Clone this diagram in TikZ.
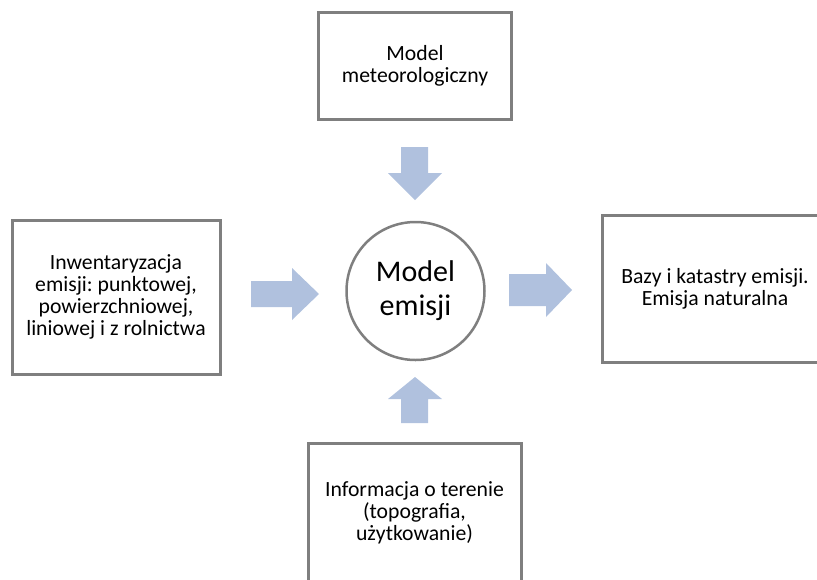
\documentclass[tikz,border=0pt]{standalone}
\usepackage{fontspec}
\setmainfont{Carlito}
\usepackage{tikz}
\definecolor{boxgray}{RGB}{127,127,127}
\definecolor{flowblue}{RGB}{176,193,222}
\frenchspacing

\begin{document}
\begin{tikzpicture}[x=1pt,y=-1pt,
  inbox/.style={draw=boxgray, line width=3pt, fill=white, align=center,
    inner sep=0pt, font=\fontsize{21.7}{22}\selectfont},
  core/.style={circle, draw=boxgray, line width=2.5pt, fill=white,
    align=center, inner sep=0pt, minimum size=138pt,
    font=\fontsize{30}{34}\selectfont},
  flow/.style={fill=flowblue}]

\useasboundingbox (0,0) rectangle (817,579);

% Boxes around the model
\node [inbox, minimum width=193pt, minimum height=107pt] (met) at (415,65.5)
  {Model\\meteorologiczny};
\node [inbox, minimum width=208pt, minimum height=154pt] (inw) at (116,297)
  {Inwentaryzacja\\emisji: punktowej,\\powierzchniowej,\\liniowej i z rolnictwa};
\node [inbox, minimum width=226pt, minimum height=147pt] (baz) at (715,288.5)
  {Bazy i katastry emisji.\\Emisja naturalna};
\node [inbox, minimum width=213pt, minimum height=140pt] (inf) at (414.5,513)
  {Informacja o terenie\\(topografia,\\użytkowanie)};

% Central model
\node [core] (emi) at (415.5,291) {Model\\emisji};

% Block arrows towards and out of the model
\fill [flow] (401,147) -- (428,147) -- (428,173) -- (442,173) -- (415,200)
  -- (388,173) -- (401,173) -- cycle;
\fill [flow] (401,423) -- (428,423) -- (428,399) -- (442,399) -- (415,377)
  -- (388,399) -- (401,399) -- cycle;
\fill [flow] (251,281) -- (292,281) -- (292,268) -- (319,294) -- (292,320)
  -- (292,307) -- (251,307) -- cycle;
\fill [flow] (509,274) -- (546,274) -- (546,263) -- (572,290) -- (546,317)
  -- (546,306) -- (509,306) -- cycle;

\end{tikzpicture}
\end{document}
